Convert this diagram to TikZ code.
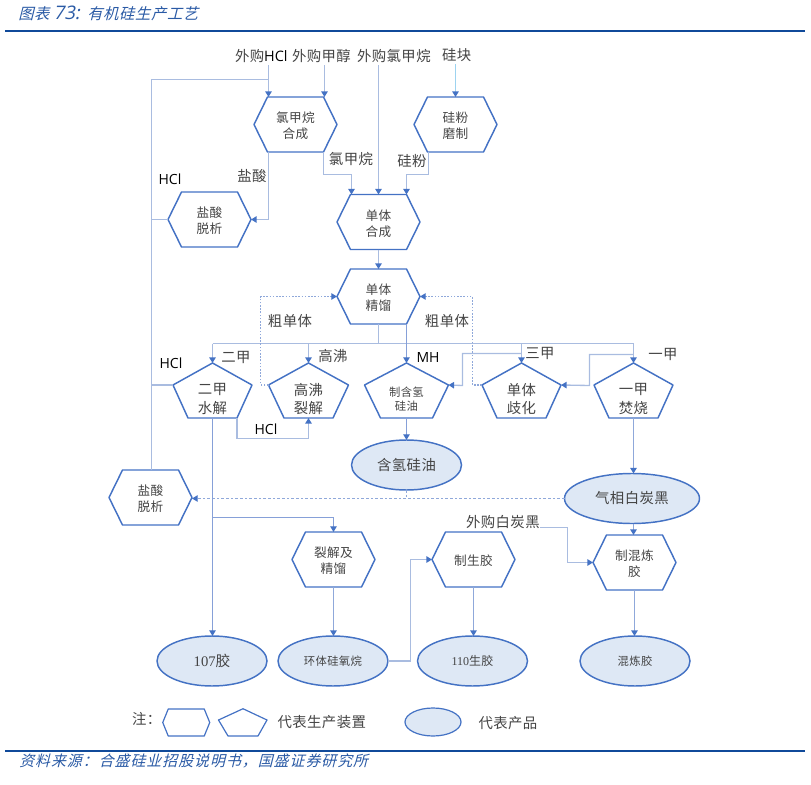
\documentclass[tikz,border=0pt]{standalone}
\usepackage{fontspec}
\usetikzlibrary{arrows.meta,calc,shapes.geometric}
\setmainfont[LetterSpace=3]{Noto Sans CJK SC}
\newfontfamily\cjk[LetterSpace=3]{Noto Sans CJK SC}
\newfontfamily\cjkit[FakeSlant=0.25,LetterSpace=4]{Noto Sans CJK SC}
\newfontfamily\cjkits[FakeSlant=0.25,LetterSpace=6.5]{Noto Sans CJK SC}
\newfontfamily\latn{Open Sans}
\newfontfamily\ltit[FakeSlant=0.2]{Open Sans}
\newfontfamily\ser{Liberation Serif}
\definecolor{mainblue}{HTML}{4472C4}
\definecolor{softblue}{HTML}{A9BCE0}
\definecolor{midblue}{HTML}{8FA8DA}
\definecolor{darkflow}{HTML}{86A0D8}
\definecolor{skyblue}{HTML}{9DD3F0}
\definecolor{fillblue}{HTML}{DEE8F5}
\definecolor{txt}{HTML}{444444}
\definecolor{rule}{HTML}{104A9A}
\definecolor{navy}{HTML}{2A5AA5}
\newcommand{\fs}[1]{\fontsize{#1}{\fpeval{#1*1.27}}\selectfont}
\tikzset{
  x=0.75pt,y=-0.75pt,
  tip/.tip={Triangle[length=4.2pt,width=4.8pt,color=mainblue,fill=mainblue]},
  shapeline/.style={draw=mainblue,line width=1.1pt,line join=round},
  box/.style={inner sep=0pt,outer sep=0pt,align=center,text=txt},
  prod/.style={box,ellipse,draw=mainblue,line width=1.1pt,fill=fillblue,minimum width=82.5pt,minimum height=37.5pt},
  label/.style={inner sep=0pt,outer sep=0pt,text=txt,font=\fs{10.8}},
  hcl/.style={inner sep=0pt,outer sep=0pt,text=black,font=\latn\fs{10.5}},
  flow/.style={draw=softblue,line width=1pt,-tip},
  flowd/.style={draw=darkflow,line width=0.8pt,-tip},
  plain/.style={draw=softblue,line width=1pt},
  dots/.style={draw=midblue,line width=0.8pt,dash pattern=on 1.2pt off 1.2pt,-tip},
  dash2/.style={draw=midblue,line width=0.8pt,dash pattern=on 2pt off 1.5pt},
}
% name, x, y, (unused), font size, text
\newcommand{\hexn}[6]{%
  \node[box,minimum width=62.25pt,minimum height=41.25pt] (#1) at (#2,#3) {};
  \node[box,font=\fs{#5}] (#1-t) at ($(#1.center)+(0,1.5)$) {#6};
  \draw[shapeline] ($(#1.center)+(-41.5,0)$) -- ($(#1.center)+(-28,-27.5)$) -- ($(#1.center)+(28,-27.5)$) -- ($(#1.center)+(41.5,0)$) -- ($(#1.center)+(28,27.5)$) -- ($(#1.center)+(-28,27.5)$) -- cycle;
}
% name, x, half width, half bottom, font size, text
\newcommand{\pentn}[6]{%
  \node[box,minimum width=#3*1.5pt,minimum height=41.25pt] (#1) at (#2,390.5) {};
  \node[box,font=\fs{#5}] (#1-t) at ($(#1.center)+(0,8.5)$) {#6};
  \coordinate (#1-l) at ($(#1.center)+(-#3,-5.5)$);
  \coordinate (#1-r) at ($(#1.center)+(#3,-5.5)$);
  \draw[shapeline] (#1.north) -- (#1-r) -- ($(#1.center)+(#4,27.5)$) -- ($(#1.center)+(-#4,27.5)$) -- (#1-l) -- cycle;
}
\begin{document}
\begin{tikzpicture}
\useasboundingbox (0,0) rectangle (811,785);
% header and footer
\coordinate (ruleAl) at (5,31); \coordinate (ruleAr) at (805,31);
\coordinate (ruleBl) at (5,751); \coordinate (ruleBr) at (805,751);
\draw[rule,line width=1.7pt] (ruleAl) -- (ruleAr);
\draw[rule,line width=1.7pt] (ruleBl) -- (ruleBr);
\node[anchor=west,inner sep=0pt,text=navy,font=\cjkit\fs{11.5}] (title) at (18,13) {图表 {\ltit\fs{14}73:}\hspace{1.5pt} 有机硅生产工艺};
\node[anchor=west,inner sep=0pt,text=navy,font=\cjkits\fs{11.2}] (source) at (19,761) {资料来源：合盛硅业招股说明书，国盛证券研究所};

% process hexagons
\hexn{clsyn}{295.5}{124.5}{}{9.5}{氯甲烷\\合成}
\hexn{grind}{455.5}{124.5}{}{9.5}{硅粉\\磨制}
\hexn{hclA}{209.5}{219.5}{}{9.5}{盐酸\\脱析}
\hexn{monosyn}{378.5}{222}{}{9.5}{单体\\合成}
\hexn{monodis}{378.5}{296.5}{}{9.5}{单体\\精馏}
\hexn{hclB}{150.5}{497.5}{}{9.5}{盐酸\\脱析}
\hexn{crack}{333.5}{559.5}{}{9.5}{裂解及\\精馏}
\hexn{rawgum}{473.5}{559.5}{}{9.5}{制生胶}
\hexn{mixing}{634.5}{562.5}{}{9.5}{制混炼\\胶}
% process pentagons
\pentn{hydro}{212.5}{39.5}{24.5}{10.8}{二甲\\水解}
\pentn{high}{308.5}{40}{24.5}{10.8}{高沸\\裂解}
\pentn{mhoil}{406.5}{42}{26}{8.5}{制含氢\\硅油}
\pentn{redis}{521.5}{39.5}{24.5}{10.8}{单体\\歧化}
\pentn{burn}{633.5}{39.5}{24.5}{10.8}{一甲\\焚烧}
% products
\node[prod,font=\fs{10.8}] (hoil) at (406.5,465) {含氢硅油};
\node[prod,font=\fs{10.8},minimum width=101.25pt] (silica) at (632,498.5) {气相白炭黑};
\node[prod,font=\ser\fs{11}] (g107) at (212,661) {107{\cjk 胶}};
\node[prod,font=\fs{8.5}] (cyclic) at (333,661) {环体硅氧烷};
\node[prod,font=\ser\fs{9}] (g110) at (472.5,661) {110{\cjk 生胶}};
\node[prod,font=\fs{8.5}] (mixgum) at (635,661) {混炼胶};

% source labels
\node[label,anchor=west] (inHCl) at (235,56) {外购{\latn\color{black}HCl}};
\node[label,anchor=west] (inMeOH) at (292,56) {外购甲醇};
\node[label,anchor=west] (inMeCl) at (357,56) {外购氯甲烷};
\node[label,anchor=west] (inSi) at (442,55) {硅块};
\coordinate (inHClb) at (268.5,65);
\coordinate (inMeOHb) at (324.5,65);
\coordinate (inMeClb) at (378.5,65);
\coordinate (inSib) at (455.5,64);

% flows at the top
\draw[flow] (inHClb) -- (inHClb |- clsyn.north);
\draw[flow] (inMeOHb) -- (inMeOHb |- clsyn.north);
\draw[flow] (inMeClb) -- (monosyn.north);
\draw[flow,draw=skyblue] (inSib) -- (inSib |- grind.north);
\coordinate (jHCl) at (268.5,79.5);
\coordinate (leftTop) at (151.5,79.5);
\draw[plain] (jHCl) -- (leftTop) -- (leftTop |- hclB.north);
\draw[plain] (hclA.west) -- (leftTop |- hclA.west);
\draw[flow] ($(clsyn.south)+(-27,0)$) |- (hclA.east);
\draw[flow] ($(clsyn.south)+(28,0)$) |- ($(monosyn.north)+(-27,-20)$) -- ($(monosyn.north)+(-27,0)$);
\draw[flow] ($(grind.south)+(-27,0)$) |- ($(monosyn.north)+(28,-20)$) -- ($(monosyn.north)+(28,0)$);
\draw[flow] (monosyn.south) -- (monodis.north);

% bus under distillation
\coordinate (busL) at (212.5,343.5);
\coordinate (busR) at (633.5,343.5);
\draw[plain] (monodis.south) -- (monodis.south |- busL);
\draw[plain] (busL) -- (busR);
\draw[flow] (busL) -- (hydro.north);
\draw[flow] (high.north |- busL) -- (high.north);
\draw[flow] (redis.north |- busL) -- (redis.north);
\draw[flow] (busR) -- (burn.north);
\draw[flowd] (mhoil.north |- monodis.south) -- (mhoil.north);
\coordinate (tapA) at (521.5,353.5);
\coordinate (tapB) at (633.5,354.5);
\draw[flow] (tapA) -| (462.5,385.5) -- (mhoil-r);
\draw[flow] (tapB) -| (589.5,385.5) -- (redis-r);

% crude monomer recycle
\draw[dots] (high-l) -- (260.5,385) |- (monodis.west);
\draw[dots] (redis-l) -- (472.5,385) |- (monodis.east);

% HCl lines
\draw[plain] (hydro-l) -- (leftTop |- hydro-l);
\draw[flow] ($(hydro.south)+(24.5,0)$) |- (280,438.5) -| (high.south);

% lower flows
\draw[flowd] (mhoil.south) -- (hoil.north);
\draw[flow,draw=midblue] (burn.south) -- (burn.south |- silica.north);
\draw[flow,draw=midblue] (burn.south |- silica.south) -- (burn.south |- mixing.north);
\draw[dash2] (hoil.south) -- (hoil.south |- silica.west);
\draw[dots,dash pattern=on 2pt off 1.5pt] (silica.west) -- (hclB.east |- silica.west);
\draw[flowd] (hydro.south) -- (g107.north -| hydro.south);
\draw[flowd] (hydro.south |- crack.north) ++(0,-14.5) -| (crack.north);
\draw[flow,draw=midblue] (crack.south) -- (cyclic.north -| crack.south);
\draw[flow,draw=midblue] (rawgum.south) -- (g110.north -| rawgum.south);
\draw[flow,draw=midblue] (mixing.south) -- (mixgum.north -| mixing.south);
\draw[flow] (cyclic.east) -| (410.5,559.5) -- (rawgum.west);
\node[label,anchor=west] (buySil) at (466,522) {外购白炭黑};
\coordinate (buySilR) at (540,527.5);
\draw[flow] (buySilR) -| (567.5,562.5) -- (mixing.west);

% flow labels
\node[label,anchor=center] (lMeCl) at (351,159) {氯甲烷};
\node[label,anchor=center] (lSiP) at (412,161) {硅粉};
\node[label,anchor=center] (lHcA) at (252,176) {盐酸};
\node[hcl] (lHClA) at (170,179) {HCl};
\node[label] (lcruA) at (290,321) {粗单体};
\node[label] (lcruB) at (447,321) {粗单体};
\node[hcl] (lHClB) at (171,363) {HCl};
\node[label] (lDi) at (236,357) {二甲};
\node[label] (lHi) at (333,356) {高沸};
\node[hcl] (lMH) at (428,357) {MH};
\node[label] (lTri) at (540,353) {三甲};
\node[label] (lMono) at (663,354) {一甲};
\node[hcl] (lHClC) at (266,429) {HCl};

% legend
\node[label,anchor=west] (note) at (132,719) {注：};
\node[inner sep=0pt,minimum width=35.25pt,minimum height=20.25pt] (lgHex) at (186.25,722.5) {};
\draw[shapeline,line width=0.9pt] ($(lgHex.center)+(-23.5,0)$) -- ($(lgHex.center)+(-18,-13.5)$) -- ($(lgHex.center)+(18,-13.5)$) -- ($(lgHex.center)+(23.5,0)$) -- ($(lgHex.center)+(18,13.5)$) -- ($(lgHex.center)+(-18,13.5)$) -- cycle;
\node[inner sep=0pt,minimum width=36pt,minimum height=20.25pt] (lgPent) at (243,722.5) {};
\draw[shapeline,line width=0.9pt] (lgPent.north) -- ($(lgPent.center)+(24,-2.5)$) -- ($(lgPent.center)+(15,13.5)$) -- ($(lgPent.center)+(-15,13.5)$) -- ($(lgPent.center)+(-24.5,-2.5)$) -- cycle;
\node[label,anchor=west] (lgA) at (277.5,722) {代表生产装置};
\node[prod,minimum width=42pt,minimum height=21pt,line width=0.9pt] (lgEll) at (433,722) {};
\node[label,anchor=west] (lgB) at (478.5,723) {代表产品};
\end{tikzpicture}
\end{document}
